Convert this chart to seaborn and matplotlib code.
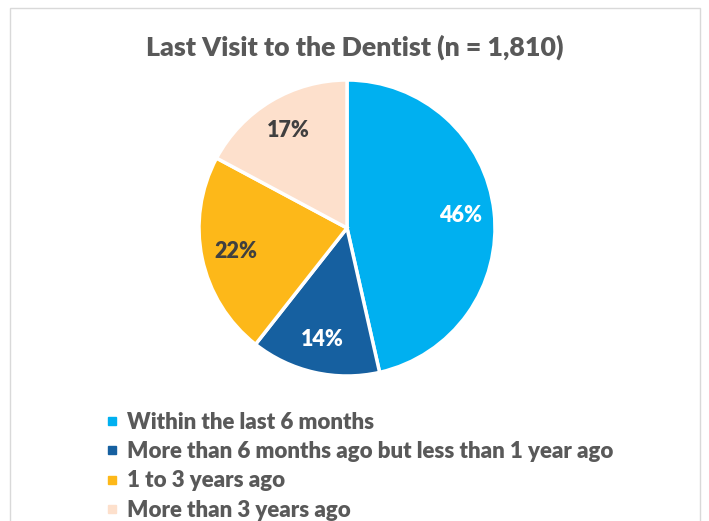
import matplotlib.pyplot as plt
import seaborn as sns
from matplotlib.lines import Line2D
from matplotlib.patches import Rectangle

# data
categories = [
    "Within the last 6 months",
    "More than 6 months ago but less than 1 year ago",
    "1 to 3 years ago",
    "More than 3 years ago",
]
shares = [46, 14, 22, 17]
colors = ["#00B0F0", "#1660A0", "#FDB819", "#FDE0CC"]
label_colors = ["white", "white", "#404040", "#404040"]
title = "Last Visit to the Dentist (n = 1,810)"

sns.set_theme(style="white")
plt.rcParams["font.family"] = ["Lato", "DejaVu Sans"]

W, H = 709, 521
fig = plt.figure(figsize=(W / 100, H / 100), dpi=100)

# light grey chart frame
fig.patches.append(Rectangle((10 / W, -0.05), 690 / W, 1.05 - 8 / H,
                             transform=fig.transFigure, fill=False,
                             edgecolor="#D9D9D9", linewidth=1))

# pie axes: centre (347, 228) px, radius 148 px
cx, cy, r = 347, 228, 148
ax = fig.add_axes([(cx - r) / W, 1 - (cy + r) / H, 2 * r / W, 2 * r / H])
wedges, texts, autotexts = ax.pie(
    shares, colors=colors, startangle=90, counterclock=False,
    autopct="%1.0f%%", pctdistance=0.77,
    wedgeprops=dict(edgecolor="white", linewidth=2.5),
    textprops=dict(fontsize=15.5, fontweight="heavy"),
)
for t, c in zip(autotexts, label_colors):
    t.set_color(c)
ax.set_xlim(-1, 1)
ax.set_ylim(-1, 1)
ax.set_aspect("equal")

fig.text(355 / W, 1 - 47 / H, title, ha="center", va="center",
         fontsize=19.3, fontweight="heavy", color="#595959")

handles = [Line2D([], [], linestyle="none", marker="s", markersize=6,
                  markerfacecolor=c, markeredgecolor=c) for c in colors]
fig.legend(handles, categories, loc="upper left",
           bbox_to_anchor=(104 / W, 1 - 412 / H), frameon=False,
           prop=dict(size=16, weight="heavy"), labelcolor="#595959",
           handlelength=0.7, handletextpad=0.35, labelspacing=0.37,
           borderpad=0, borderaxespad=0)

fig.savefig("out.png", dpi=100)
